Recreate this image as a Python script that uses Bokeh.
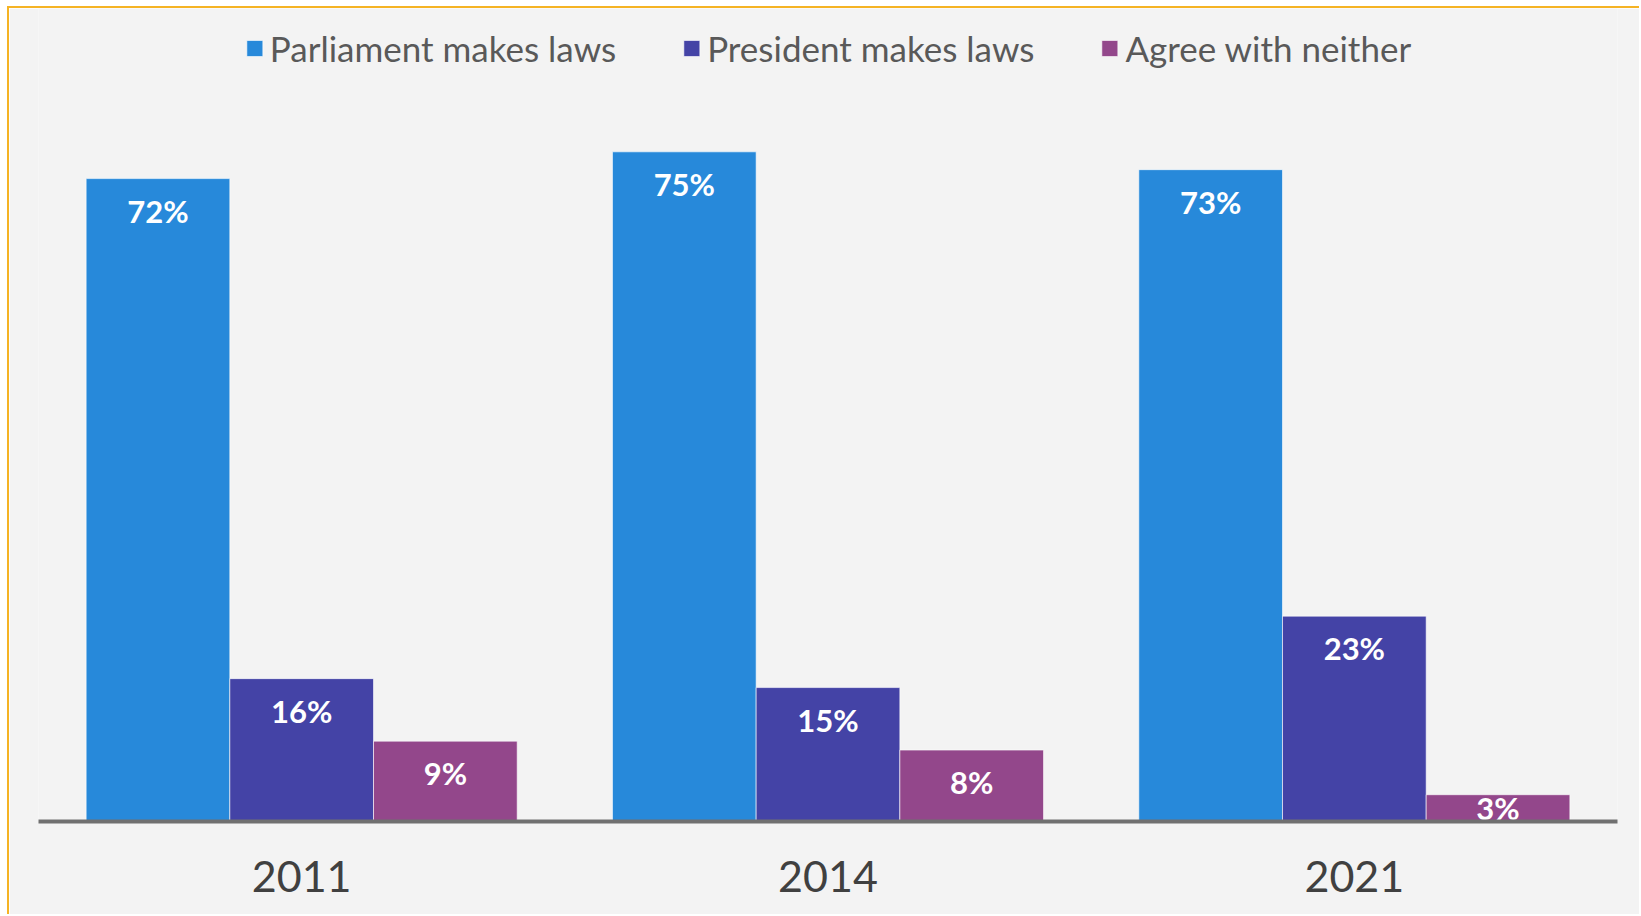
import numpy as np
from bokeh.plotting import figure
from bokeh.models import FactorRange, Range1d, ColumnDataSource
from bokeh.transform import dodge
from bokeh.core.properties import value
from bokeh.embed import file_html
from bokeh.resources import INLINE

# ---- data ----
years = ["2011", "2014", "2021"]
series_names = ["Parliament makes laws", "President makes laws", "Agree with neither"]
parliament = [72, 75, 73]
president = [16, 15, 23]
neither = [9, 8, 3]
colors = ["#2789DA", "#4443A6", "#93478B"]

FONT = "Lato"
BAR_W = 0.273

p = figure(
    x_range=FactorRange(*years),
    y_range=Range1d(0, 91.05),
    width=1632, height=908,
    output_backend="svg", toolbar_location=None,
    y_axis_location=None,
    min_border_left=29, min_border_right=24,
    min_border_top=0, min_border_bottom=95,
)
p.styles = {
    "margin-top": "6px", "margin-left": "7px",
    "border-top": "2px solid #F5B324", "border-left": "2px solid #F5B324",
}
p.background_fill_color = "#F3F3F3"
p.border_fill_color = "#F3F3F3"
p.outline_line_color = None
p.xgrid.grid_line_color = None
p.ygrid.grid_line_color = None

series = [parliament, president, neither]
offsets = [-BAR_W, 0.0, BAR_W]
for name, vals, col, off in zip(series_names, series, colors, offsets):
    v = np.array(vals, dtype=float)
    src = ColumnDataSource(dict(
        year=years, val=v,
        label=[f"{int(x)}%" for x in vals],
        ly=np.maximum(v - 3.6, 1.5),
    ))
    p.vbar(x=dodge("year", off, range=p.x_range), top="val", width=BAR_W,
           source=src, fill_color=col, line_color="white", line_alpha=0.6,
           line_width=1, legend_label=name)
    p.text(x=dodge("year", off, range=p.x_range), y="ly", text="label", source=src,
           text_color="white", text_font=value(FONT), text_font_style="bold",
           text_font_size="31px", text_align="center", text_baseline="middle")

ax = p.xaxis[0]
ax.axis_line_color = "#707070"
ax.axis_line_width = 4
ax.major_tick_line_color = None
ax.minor_tick_line_color = None
ax.major_label_text_font = FONT
ax.major_label_text_font_size = "43px"
ax.major_label_text_color = "#404040"
ax.major_label_standoff = 33

lg = p.legend[0]
lg.orientation = "horizontal"
lg.location = "top_center"
lg.background_fill_alpha = 0
lg.border_line_color = None
lg.label_text_font = FONT
lg.label_text_font_size = "35px"
lg.label_text_color = "#595959"
lg.glyph_width = 20
lg.glyph_height = 20
lg.label_standoff = 6
lg.spacing = 65
lg.margin = 19
lg.padding = 10

open("out.html", "w").write(file_html(p, INLINE))
